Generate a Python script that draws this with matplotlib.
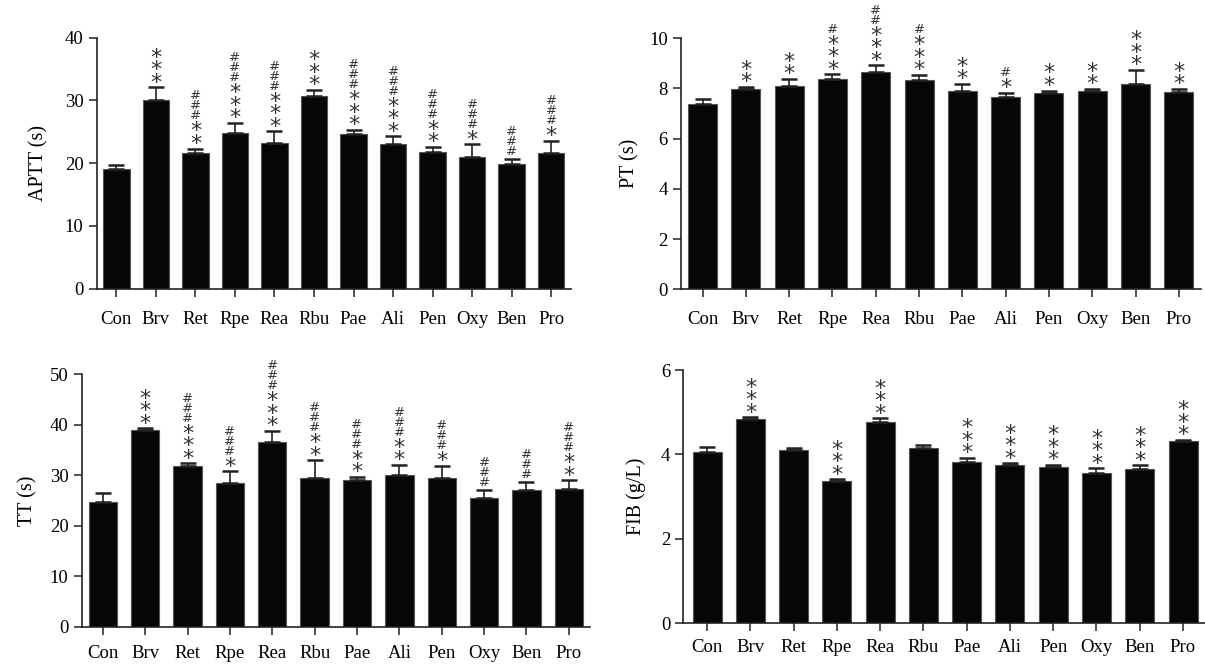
import numpy as np
import matplotlib
matplotlib.use("Agg")
import matplotlib.pyplot as plt

plt.rcParams["font.family"] = ["Liberation Serif", "DejaVu Serif"]

GRUPOS = ["Con", "Brv", "Ret", "Rpe", "Rea", "Rbu", "Pae", "Ali", "Pen", "Oxy", "Ben", "Pro"]

# APTT (s)
APTT_MED  = [19.0, 30.1, 21.7, 24.8, 23.2, 30.7, 24.7, 23.0, 21.8, 21.0, 19.9, 21.6]
APTT_ERR  = [0.64, 2.0, 0.64, 1.6, 1.9, 0.96, 0.64, 1.3, 0.8, 2.0, 0.75, 2.0]
APTT_AST  = [0, 3, 2, 3, 3, 3, 3, 3, 2, 1, 0, 1]
APTT_HASH = [0, 0, 3, 3, 3, 0, 3, 3, 3, 3, 3, 3]

# PT (s)
PT_MED  = [7.37, 7.98, 8.09, 8.38, 8.65, 8.35, 7.91, 7.67, 7.83, 7.91, 8.19, 7.85]
PT_ERR  = [0.21, 0.09, 0.29, 0.19, 0.28, 0.19, 0.27, 0.16, 0.09, 0.07, 0.55, 0.13]
PT_AST  = [0, 2, 2, 3, 3, 3, 2, 1, 2, 2, 3, 2]
PT_HASH = [0, 0, 0, 1, 2, 1, 0, 1, 0, 0, 0, 0]

# TT (s)
TT_MED  = [24.8, 38.9, 31.8, 28.5, 36.7, 29.4, 29.1, 30.1, 29.5, 25.6, 27.1, 27.3]
TT_ERR  = [1.7, 0.46, 0.6, 2.3, 2.1, 3.6, 0.6, 2.0, 2.4, 1.5, 1.6, 1.7]
TT_AST  = [0, 3, 3, 1, 3, 2, 2, 2, 1, 0, 0, 2]
TT_HASH = [0, 0, 3, 3, 3, 3, 3, 3, 3, 3, 3, 3]

# FIB (g/L)
FIB_MED  = [4.06, 4.83, 4.10, 3.36, 4.76, 4.16, 3.83, 3.75, 3.70, 3.57, 3.66, 4.31]
FIB_ERR  = [0.12, 0.05, 0.06, 0.05, 0.10, 0.07, 0.09, 0.04, 0.05, 0.10, 0.08, 0.04]
FIB_AST  = [0, 3, 0, 3, 3, 0, 3, 3, 3, 3, 3, 3]
FIB_HASH = [0, 0, 0, 0, 0, 0, 0, 0, 0, 0, 0, 0]

PAINEIS = [
    # (posicao, med, err, ast, hash, ymax, passo, ylabel, labelpad, xmin, xpad)
    ([0.0802, 0.5659, 0.3936, 0.3774], APTT_MED, APTT_ERR, APTT_AST, APTT_HASH, 40, 10, "APTT (s)", 12, -0.5, 10),
    ([0.5651, 0.5650, 0.4312, 0.3774], PT_MED, PT_ERR, PT_AST, PT_HASH, 10, 2, "PT (s)", 7, -0.5, 10),
    ([0.0678, 0.0576, 0.4218, 0.3794], TT_MED, TT_ERR, TT_AST, TT_HASH, 50, 10, "TT (s)", 9, -0.5, 7),
    ([0.5671, 0.0627, 0.4326, 0.3809], FIB_MED, FIB_ERR, FIB_AST, FIB_HASH, 6, 2, "FIB (g/L)", 11, -0.55, 5),
]

PX = 0.72          # 1 px em pontos (dpi 100)
FS_AST, FS_HASH = 16, 9.5
DESC = 0.208       # descida de "lp" em em (DejaVu Sans)
AJUSTE_AST = 4.0   # correcao empirica (px) do centro do *

fig = plt.figure(figsize=(12.05, 6.65), dpi=100)
renderer = fig.canvas.get_renderer()


def passo_px(fs, ls, s):
    # distancia real entre linhas de um texto de varias linhas
    t1 = fig.text(0, 0, s, fontsize=fs, family="DejaVu Sans", linespacing=ls)
    t2 = fig.text(0, 0, s + "\n" + s, fontsize=fs, family="DejaVu Sans", linespacing=ls)
    h = t2.get_window_extent(renderer).height - t1.get_window_extent(renderer).height
    t1.remove()
    t2.remove()
    return h


def calibrar(fs, s, alvo):
    a = passo_px(fs, 0.5, s)
    b = passo_px(fs, 1.0, s)
    return 0.5 + 0.5 * (alvo - a) / (b - a)


LS_AST = calibrar(FS_AST, "*", 12.5)
LS_HASH = calibrar(FS_HASH, "#", 10.0)


def anotar(ax, i, topo, n_ast, n_hash):
    # bloco de * em baixo, bloco de # em cima; distancias em px
    centro = 8.4
    if n_ast:
        em = FS_AST / PX
        dy = (centro + AJUSTE_AST - (DESC + 0.595) * em) * PX
        ax.annotate("\n".join(["*"] * n_ast), xy=(i, topo), xytext=(0, dy),
                    textcoords="offset points", ha="center", va="bottom",
                    fontsize=FS_AST, linespacing=LS_AST, color="#333333",
                    family="DejaVu Sans", annotation_clip=False)
        centro += 12.5 * (n_ast - 1) + 12.7
    if n_hash:
        em = FS_HASH / PX
        dy = (centro - (DESC + 0.365) * em) * PX
        ax.annotate("\n".join(["#"] * n_hash), xy=(i, topo), xytext=(0, dy),
                    textcoords="offset points", ha="center", va="bottom",
                    fontsize=FS_HASH, linespacing=LS_HASH, color="#333333",
                    family="DejaVu Sans", annotation_clip=False)


x = np.arange(len(GRUPOS))

for pos, med, err, ast, hsh, ymax, passo, ylab, lpad, xmin, xpad in PAINEIS:
    ax = fig.add_axes(pos)
    med = np.array(med)
    err = np.array(err)
    ax.bar(x, med, width=0.67, color="#060606", edgecolor="#555555", linewidth=0.8, zorder=2)
    ax.errorbar(x, med, yerr=[np.zeros_like(err), err], fmt="none", ecolor="#222222",
                elinewidth=1.2, capsize=5.5, capthick=1.8, zorder=3)
    for i in range(len(GRUPOS)):
        anotar(ax, i, med[i] + err[i], ast[i], hsh[i])

    ax.set_xlim(xmin, len(GRUPOS) - 0.5)
    ax.set_ylim(0, ymax)
    ax.set_yticks(np.arange(0, ymax + passo / 2, passo))
    ax.set_xticks(x)
    ax.set_xticklabels(GRUPOS, fontsize=13.5)
    ax.tick_params(axis="y", labelsize=13.5, length=5.5, width=1.1, color="#222222", pad=4)
    ax.tick_params(axis="x", length=6, width=1.1, color="#222222", pad=xpad)
    ax.set_ylabel(ylab, fontsize=14.5, labelpad=lpad)
    for lado in ["top", "right"]:
        ax.spines[lado].set_visible(False)
    for lado in ["left", "bottom"]:
        ax.spines[lado].set_linewidth(1.2)
        ax.spines[lado].set_color("#222222")

plt.savefig("out.png", dpi=100)
plt.close()
